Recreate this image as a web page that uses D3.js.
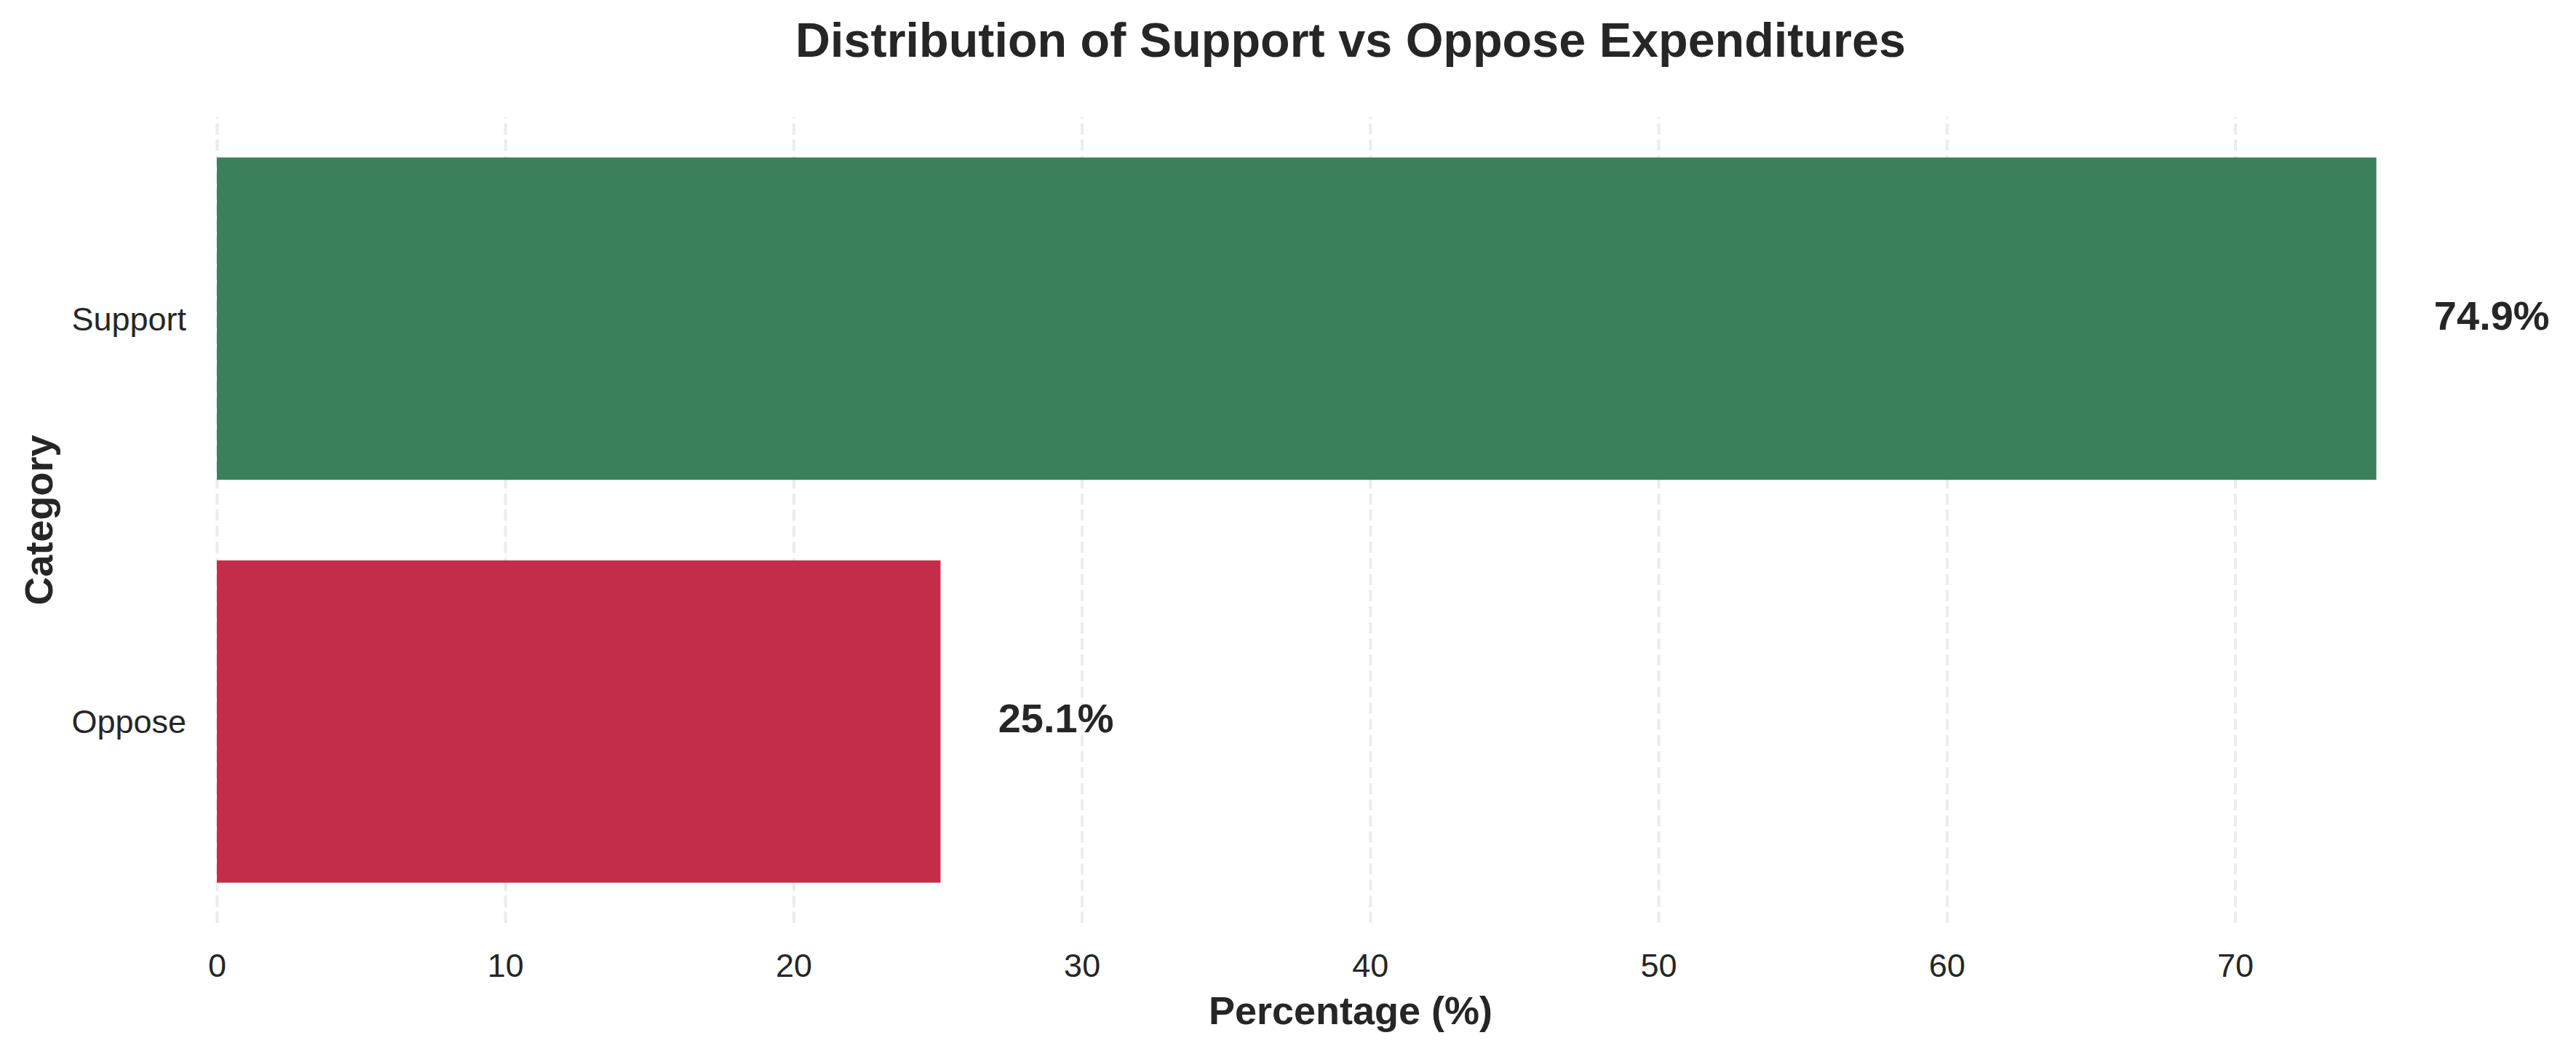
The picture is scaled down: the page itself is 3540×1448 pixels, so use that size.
<!DOCTYPE html>
<html>
<head>
<meta charset="utf-8">
<script src="https://cdn.jsdelivr.net/npm/d3@7"></script>
<style>
  body { margin: 0; background: #fff; }
  text { font-family: 'Liberation Sans', Arial, sans-serif; fill: #262626; }
</style>
</head>
<body>
<svg id="chart"></svg>
<script>
const categories = ['Support', 'Oppose']
const percentages = [74.9, 25.1]
const xTicks = [0, 10, 20, 30, 40, 50, 60, 70]

const chartTitle = 'Distribution of Support vs Oppose Expenditures'
const xTitle = 'Percentage (%)'
const yTitle = 'Category'

onload = () => {
  let width = 3540
  let height = 1448
  let margins = { left: 298, right: 126, top: 161, bottom: 180 }

  let svg = d3.select('#chart')
    .attr('width', width)
    .attr('height', height)

  svg.append('rect')
    .attr('width', width)
    .attr('height', height)
    .attr('fill', '#fff')

  let plotW = width - margins.left - margins.right
  let plotH = height - margins.top - margins.bottom

  let plot = svg.append('g')
    .attr('transform', 'translate(' + margins.left + ',' + margins.top + ')')

  let dados = categories.map((c, i) => ({ chave: c, valor: percentages[i] }))

  // x goes a bit past the biggest bar
  let fnX = d3.scaleLinear()
    .domain([0, d3.max(percentages) * 1.05])
    .range([0, plotW])

  let fnY = d3.scaleBand()
    .domain(categories)
    .range([0, plotH])
    .paddingInner(0.2)
    .paddingOuter(0.1)

  let fnCores = d3.scaleOrdinal()
    .domain(categories)
    .range(['#3b805a', '#c32d4a'])

  // dashed grid behind bars
  let grade = d3.axisBottom(fnX)
    .tickValues(xTicks)
    .tickSize(-plotH)
    .tickFormat('')
  plot.append('g')
    .attr('class', 'grade')
    .attr('transform', 'translate(0,' + plotH + ')')
    .call(grade)
    .call(g => g.select('.domain').remove())
    .call(g => g.selectAll('line')
      .attr('stroke', '#ececec')
      .attr('stroke-width', 4.2)
      .attr('stroke-dasharray', '15.4,6.7'))

  // bars
  plot.selectAll('.barra')
    .data(dados)
    .enter().append('rect')
    .attr('class', 'barra')
    .attr('x', fnX(0))
    .attr('y', d => fnY(d.chave))
    .attr('width', d => fnX(d.valor) - fnX(0))
    .attr('height', fnY.bandwidth())
    .attr('fill', d => fnCores(d.chave))

  // value labels
  plot.selectAll('.rotulo')
    .data(dados)
    .enter().append('text')
    .attr('class', 'rotulo')
    .attr('x', d => fnX(d.valor + 2))
    .attr('y', d => fnY(d.chave) + fnY.bandwidth() / 2)
    .attr('dy', '0.27em')
    .attr('font-size', 56)
    .attr('font-weight', 'bold')
    .text(d => d.valor.toFixed(1) + '%')

  // axes
  let eixoX = d3.axisBottom(fnX)
    .tickValues(xTicks)
    .tickSize(0)
    .tickPadding(42)
  plot.append('g')
    .attr('transform', 'translate(0,' + plotH + ')')
    .call(eixoX)
    .call(g => g.select('.domain').remove())
    .call(g => g.selectAll('text')
      .attr('font-size', 45)
      .attr('font-family', null)
      .attr('fill', '#262626'))

  let eixoY = d3.axisLeft(fnY)
    .tickSize(0)
    .tickPadding(42)
  plot.append('g')
    .call(eixoY)
    .call(g => g.select('.domain').remove())
    .call(g => g.selectAll('text')
      .attr('font-size', 45)
      .attr('dy', '0.36em')
      .attr('fill', '#262626'))
  svg.selectAll('.tick text').attr('font-family', null)
  svg.selectAll('g').attr('font-family', null).attr('font-size', null)

  // titles
  svg.append('text')
    .attr('x', margins.left + plotW / 2)
    .attr('y', 78)
    .attr('text-anchor', 'middle')
    .attr('font-size', 66.5)
    .attr('font-weight', 'bold')
    .text(chartTitle)

  svg.append('text')
    .attr('x', margins.left + plotW / 2)
    .attr('y', 1407)
    .attr('text-anchor', 'middle')
    .attr('font-size', 54)
    .attr('font-weight', 'bold')
    .text(xTitle)

  svg.append('text')
    .attr('transform', 'translate(72,' + (margins.top + plotH / 2) + ') rotate(-90)')
    .attr('text-anchor', 'middle')
    .attr('font-size', 54)
    .attr('font-weight', 'bold')
    .text(yTitle)
}
</script>
</body>
</html>
